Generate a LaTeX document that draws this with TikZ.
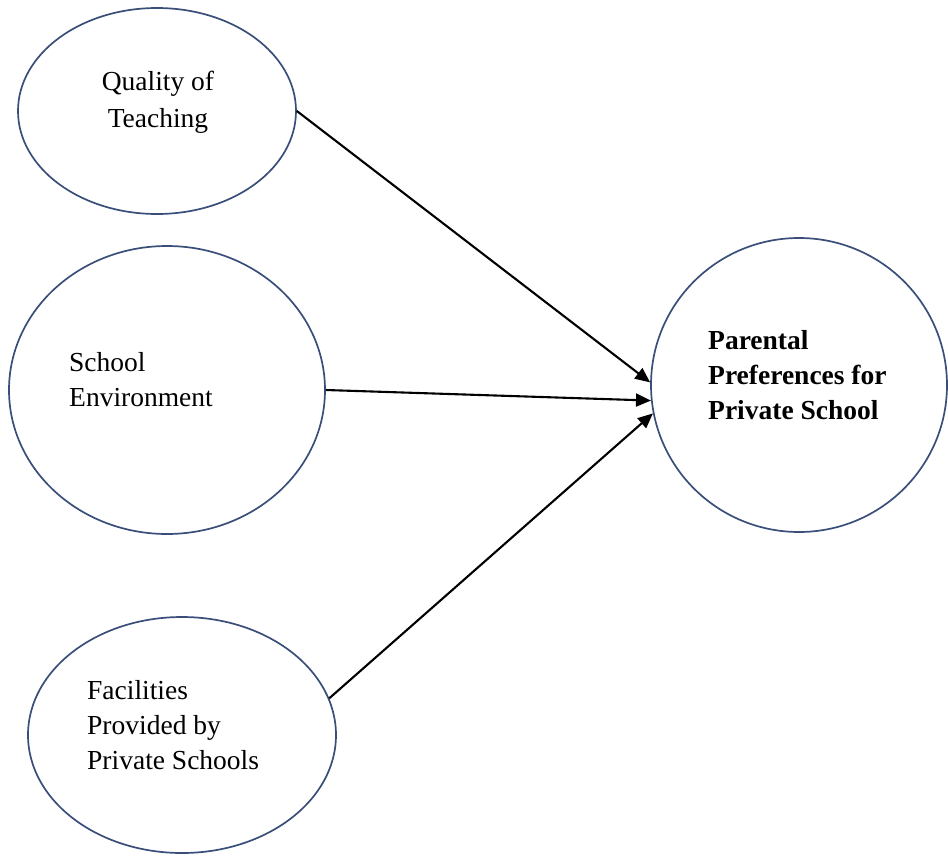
\documentclass[tikz,border=0pt]{standalone}
\usepackage{fontspec}
\setmainfont{Liberation Serif}
\usetikzlibrary{shapes.geometric,arrows.meta}
\definecolor{rimblue}{RGB}{58,78,122}
\begin{document}
\begin{tikzpicture}[x=1pt,y=-1pt]
			\tikzstyle{factor}=[draw=rimblue,line width=1.7pt,ellipse,inner sep=0pt]
			\tikzstyle{label}=[inner sep=0pt,font=\fontsize{27.5}{35}\selectfont]
			\tikzstyle{link}=[black,line width=2.1pt,-{Triangle[length=15pt,width=13pt]}]
			\useasboundingbox (0,0) rectangle (948,855);
			% factors on the left, outcome on the right
			\node [factor,minimum width=278pt,minimum height=206pt] (quality) at (157,111) {};
			\node [factor,minimum width=316pt,minimum height=288pt] (environment) at (167,390) {};
			\node [factor,minimum width=308pt,minimum height=236pt] (facilities) at (182,735) {};
			\node [factor,minimum width=296pt,minimum height=294pt] (preference) at (799,385) {};
			\node [label,align=center,anchor=north,font=\fontsize{27.5}{37}\selectfont] (qualitytext) at (158,71) {Quality of\\Teaching};
			\node [label,align=left,anchor=north west] (environmenttext) at (69,352) {School\\Environment};
			\node [label,align=left,anchor=north west] (facilitiestext) at (87,680) {Facilities\\Provided by\\Private Schools};
			\node [label,align=left,anchor=north west,font=\fontsize{27.5}{35}\selectfont\bfseries] (preferencetext) at (708,330) {Parental\\Preferences for\\Private School};
			% arrows
			\draw [link] (quality.east) -- (preference.179);
			\draw [link] (environment.east) -- (preference.186);
			\draw [link] (facilities.14) -- (preference.191);
\end{tikzpicture}
\end{document}
